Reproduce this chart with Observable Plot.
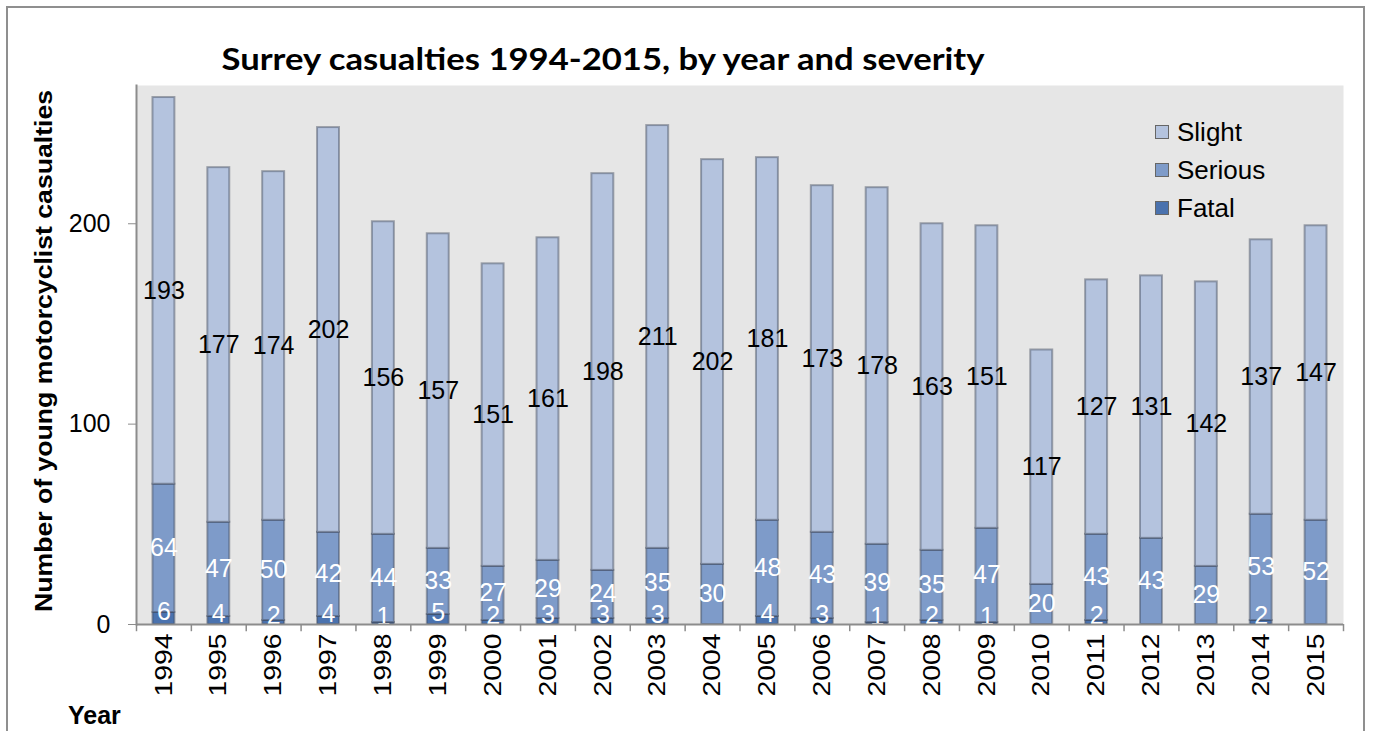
<!DOCTYPE html>
<html><head><meta charset="utf-8">
<script src="https://cdn.jsdelivr.net/npm/d3@7"></script>
<script src="https://cdn.jsdelivr.net/npm/@observablehq/plot@0.6"></script>
<style>
body{margin:0;background:#fff;font-family:"Liberation Sans",Arial,sans-serif}
#wrap{position:relative;width:1373px;height:731px;overflow:hidden;background:#fff}
#chart{position:absolute;left:0;top:0}
#border{position:absolute;left:6px;top:6px;width:1359px;height:740px;border:2px solid #8f8f8f;box-sizing:border-box;pointer-events:none}
#title{position:absolute;left:603px;top:40px;font-family:Lato,"Open Sans",sans-serif;font-weight:bold;font-size:30px;color:#000;white-space:nowrap;transform-origin:0 0}
#ylab{position:absolute;left:44px;top:351px;font-weight:bold;font-size:24px;white-space:nowrap;color:#000}
#xlab{position:absolute;left:68px;top:701px;font-weight:bold;font-size:25px;color:#000}
#legend{position:absolute;left:1155px;top:113px;font-size:26px;color:#000}
#legend div{display:flex;align-items:center;height:38px}
#legend span.sw{display:inline-block;width:12px;height:12px;border:1.5px solid #666;margin-right:8px}
</style></head><body>
<div id="wrap">
<div id="chart"></div>
<div id="title"></div>
<div id="ylab"></div>
<div id="xlab"></div>
<div id="legend"></div>
<div id="border"></div>
</div>
<script>
const years = ["1994","1995","1996","1997","1998","1999","2000","2001","2002","2003","2004","2005","2006","2007","2008","2009","2010","2011","2012","2013","2014","2015"];
const fatal   = [6,4,2,4,1,5,2,3,3,3,0,4,3,1,2,1,0,2,0,0,2,0];
const serious = [64,47,50,42,44,33,27,29,24,35,30,48,43,39,35,47,20,43,43,29,53,52];
const slight  = [193,177,174,202,156,157,151,161,198,211,202,181,173,178,163,151,117,127,131,142,137,147];
const severities = ["Fatal","Serious","Slight"];
const sevColors = ["#4a72ae","#7e9bc9","#b4c3de"];
const legendOrder = ["Slight","Serious","Fatal"];
const yTicks = [0,100,200];
const titleText = "Surrey casualties 1994-2015, by year and severity";
const yLabelText = "Number of young motorcyclist casualties";
const xLabelText = "Year";

const rows = years.flatMap((year, i) => [
  {year, sev: "Fatal", v: fatal[i]},
  {year, sev: "Serious", v: serious[i]},
  {year, sev: "Slight", v: slight[i]}
]);

const W = 1373, H = 731, mL = 136, mR = 30, mT = 85, mB = 107;
const padIn = 0.6, padOut = 0.3;
const step = (W - mL - mR) / (years.length - padIn + 2 * padOut);

const stackOpts = (extra) => Plot.stackY({x: "year", y: "v", z: "sev", order: severities, ...extra});
const label = (sev, fill, dy) => Plot.text(rows, stackOpts({
  text: d => (d.sev === sev && d.v > 0) ? String(d.v) : null,
  fill, dy, fontSize: 25, fontFamily: "Liberation Sans, Arial, sans-serif"
}));

const chart = Plot.plot({
  width: W, height: H,
  marginLeft: mL, marginRight: mR, marginTop: mT, marginBottom: mB,
  style: {background: "transparent", fontFamily: "Liberation Sans, Arial, sans-serif", color: "#000"},
  x: {domain: years, paddingInner: padIn, paddingOuter: padOut, round: false, label: null},
  y: {domain: [0, 269], label: null},
  color: {domain: severities, range: sevColors},
  marks: [
    Plot.frame({fill: "#e6e6e6", stroke: null}),
    Plot.barY(rows, stackOpts({fill: "sev", stroke: "#3d4658", strokeOpacity: 0.45, strokeWidth: 2})),
    label("Slight", "#000", 0),
    label("Serious", "#fff", 0),
    label("Fatal", "#fff", -6),
    Plot.ruleX(years, {x: d => d, y1: 0, y2: -3.6, dx: -step / 2, stroke: "#8c8c8c", strokeWidth: 1.5}),
    Plot.ruleX(years.slice(-1), {x: d => d, y1: 0, y2: -3.6, dx: step / 2, stroke: "#8c8c8c", strokeWidth: 1.5}),
    Plot.ruleY([0], {stroke: "#8c8c8c", strokeWidth: 2}),
    Plot.frame({anchor: "left", stroke: "#8c8c8c", strokeWidth: 2}),
    Plot.axisY({ticks: yTicks, tickSize: 8, tickPadding: 18, fontSize: 25, stroke: "#8c8c8c", label: null}),
    Plot.axisX({tickRotate: -90, tickSize: 0, tickPadding: 9, fontSize: 24, label: null})
  ]
});
document.getElementById("chart").appendChild(chart);
// stretch rotated year labels along their length to the reference's proportions
d3.select(chart).selectAll('g[aria-label="x-axis tick label"] text').each(function() {
  const len = this.getComputedTextLength();
  const k = len > 0 ? 63 / len : 1;
  const t = this.getAttribute("transform");
  if (t) this.setAttribute("transform", `${t} scale(${k},1)`);
});

const title = document.getElementById("title");
title.textContent = titleText;
const tw = title.getBoundingClientRect().width;
title.style.transform = `scaleX(${763 / tw}) translateX(-50%)`;

const ylab = document.getElementById("ylab");
ylab.textContent = yLabelText;
const yw = ylab.getBoundingClientRect().width;
ylab.style.transformOrigin = "0 0";
ylab.style.transform = `rotate(-90deg) scaleX(${522 / yw}) translate(-50%, -50%)`;

document.getElementById("xlab").textContent = xLabelText;
const leg = document.getElementById("legend");
legendOrder.forEach(s => {
  const row = document.createElement("div");
  const sw = document.createElement("span");
  sw.className = "sw";
  sw.style.background = sevColors[severities.indexOf(s)];
  row.appendChild(sw);
  row.appendChild(document.createTextNode(s));
  leg.appendChild(row);
});
</script>
</body></html>
